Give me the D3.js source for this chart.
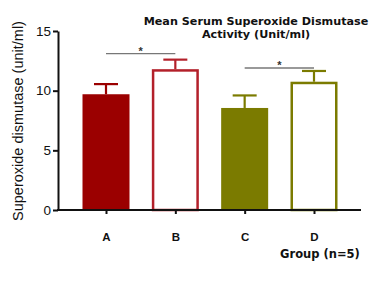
<!DOCTYPE html>
<html>
<head>
<meta charset="utf-8">
<script src="https://d3js.org/d3.v7.min.js"></script>
<style>
  body { margin: 0; background: #fff; }
  .axis text { font-family: Arial, "Liberation Sans", sans-serif; fill: #111; }
  .axis path, .axis line { stroke: #111; }
  .wide { font-family: "DejaVu Sans", Verdana, sans-serif; font-weight: bold; fill: #111; }
</style>
</head>
<body>
<svg id="chart" width="370" height="288"></svg>
<script>
// data
var groups = ["A", "B", "C", "D"];
var means = [9.7, 11.8, 8.55, 10.75];
var sems = [0.85, 0.8, 1.05, 0.9];
var filled = [true, false, true, false];
var colors = ["#9b0000", "#b3202a", "#7b7b00", "#7b7b00"];
var yTicks = [0, 5, 10, 15];
var sigPairs = [["A", "B", 13.1], ["C", "D", 11.9]];

var svg = d3.select("#chart");

var x = d3.scalePoint().domain(groups).range([106, 314]);
var y = d3.scaleLinear().domain([0, 15]).range([210, 31]);
var barW = 47;
var capW = 24;

// y axis
svg.append("g")
  .attr("class", "axis")
  .attr("transform", "translate(58,0)")
  .call(d3.axisLeft(y).tickValues(yTicks).tickSize(5).tickSizeOuter(0))
  .call(function(g) {
    g.select(".domain").attr("stroke-width", 2);
    g.selectAll(".tick line").attr("stroke-width", 2);
    g.selectAll("text").style("font-size", "13.5px").attr("x", -7);
  });

// bars
var bars = svg.append("g");
groups.forEach(function(gr, i) {
  var cx = x(gr);
  var col = colors[i];
  // error bar
  bars.append("line")
    .attr("x1", cx).attr("x2", cx)
    .attr("y1", y(means[i])).attr("y2", y(means[i] + sems[i]))
    .attr("stroke", col).attr("stroke-width", 2.2);
  bars.append("line")
    .attr("x1", cx - capW / 2).attr("x2", cx + capW / 2)
    .attr("y1", y(means[i] + sems[i])).attr("y2", y(means[i] + sems[i]))
    .attr("stroke", col).attr("stroke-width", 2.2);
  if (filled[i]) {
    bars.append("rect")
      .attr("x", cx - barW / 2).attr("width", barW)
      .attr("y", y(means[i])).attr("height", y(0) - y(means[i]))
      .attr("fill", col);
  } else {
    bars.append("rect")
      .attr("x", cx - barW / 2 + 1.25).attr("width", barW - 2.5)
      .attr("y", y(means[i]) + 1.25).attr("height", y(0) - y(means[i]) - 1.25)
      .attr("fill", "#fff").attr("stroke", col).attr("stroke-width", 2.5);
  }
});

// x axis
var xAxis = svg.append("g")
  .attr("class", "axis")
  .attr("transform", "translate(0," + y(0) + ")")
  .call(d3.axisBottom(x).tickSize(4).tickSizeOuter(0))
  .call(function(g) {
    g.select(".domain").remove();
    g.selectAll(".tick line").attr("stroke-width", 2);
    g.selectAll("text").attr("class", "wide").style("font-size", "11.5px").attr("dy", "2.05em");
  });
xAxis.append("line")
  .attr("x1", 57).attr("x2", 361)
  .attr("y1", 0).attr("y2", 0)
  .attr("stroke", "#111").attr("stroke-width", 2);

// significance lines
sigPairs.forEach(function(p) {
  var yy = y(p[2]);
  svg.append("line")
    .attr("x1", x(p[0])).attr("x2", x(p[1]))
    .attr("y1", yy).attr("y2", yy)
    .attr("stroke", "#777").attr("stroke-width", 1.3);
  svg.append("text")
    .attr("x", (x(p[0]) + x(p[1])) / 2).attr("y", yy + 1)
    .attr("text-anchor", "middle")
    .style("font-family", "Arial, sans-serif").style("font-size", "11px").style("font-weight", "bold")
    .attr("fill", "#333")
    .text("*");
});

// title
var title = svg.append("text")
  .attr("class", "wide")
  .attr("text-anchor", "middle")
  .style("font-size", "11.2px");
title.append("tspan").attr("x", 256).attr("y", 25).text("Mean Serum Superoxide Dismutase");
title.append("tspan").attr("x", 256).attr("y", 38).text("Activity (Unit/ml)");

// axis titles
svg.append("text")
  .attr("transform", "translate(23,121) rotate(-90)")
  .attr("text-anchor", "middle")
  .style("font-family", "Arial, 'Liberation Sans', sans-serif")
  .style("font-size", "14.5px")
  .attr("fill", "#111")
  .text("Superoxide dismutase (unit/ml)");

svg.append("text")
  .attr("class", "wide")
  .attr("x", 320).attr("y", 258)
  .attr("text-anchor", "middle")
  .style("font-size", "11.5px")
  .text("Group (n=5)");
</script>
</body>
</html>
